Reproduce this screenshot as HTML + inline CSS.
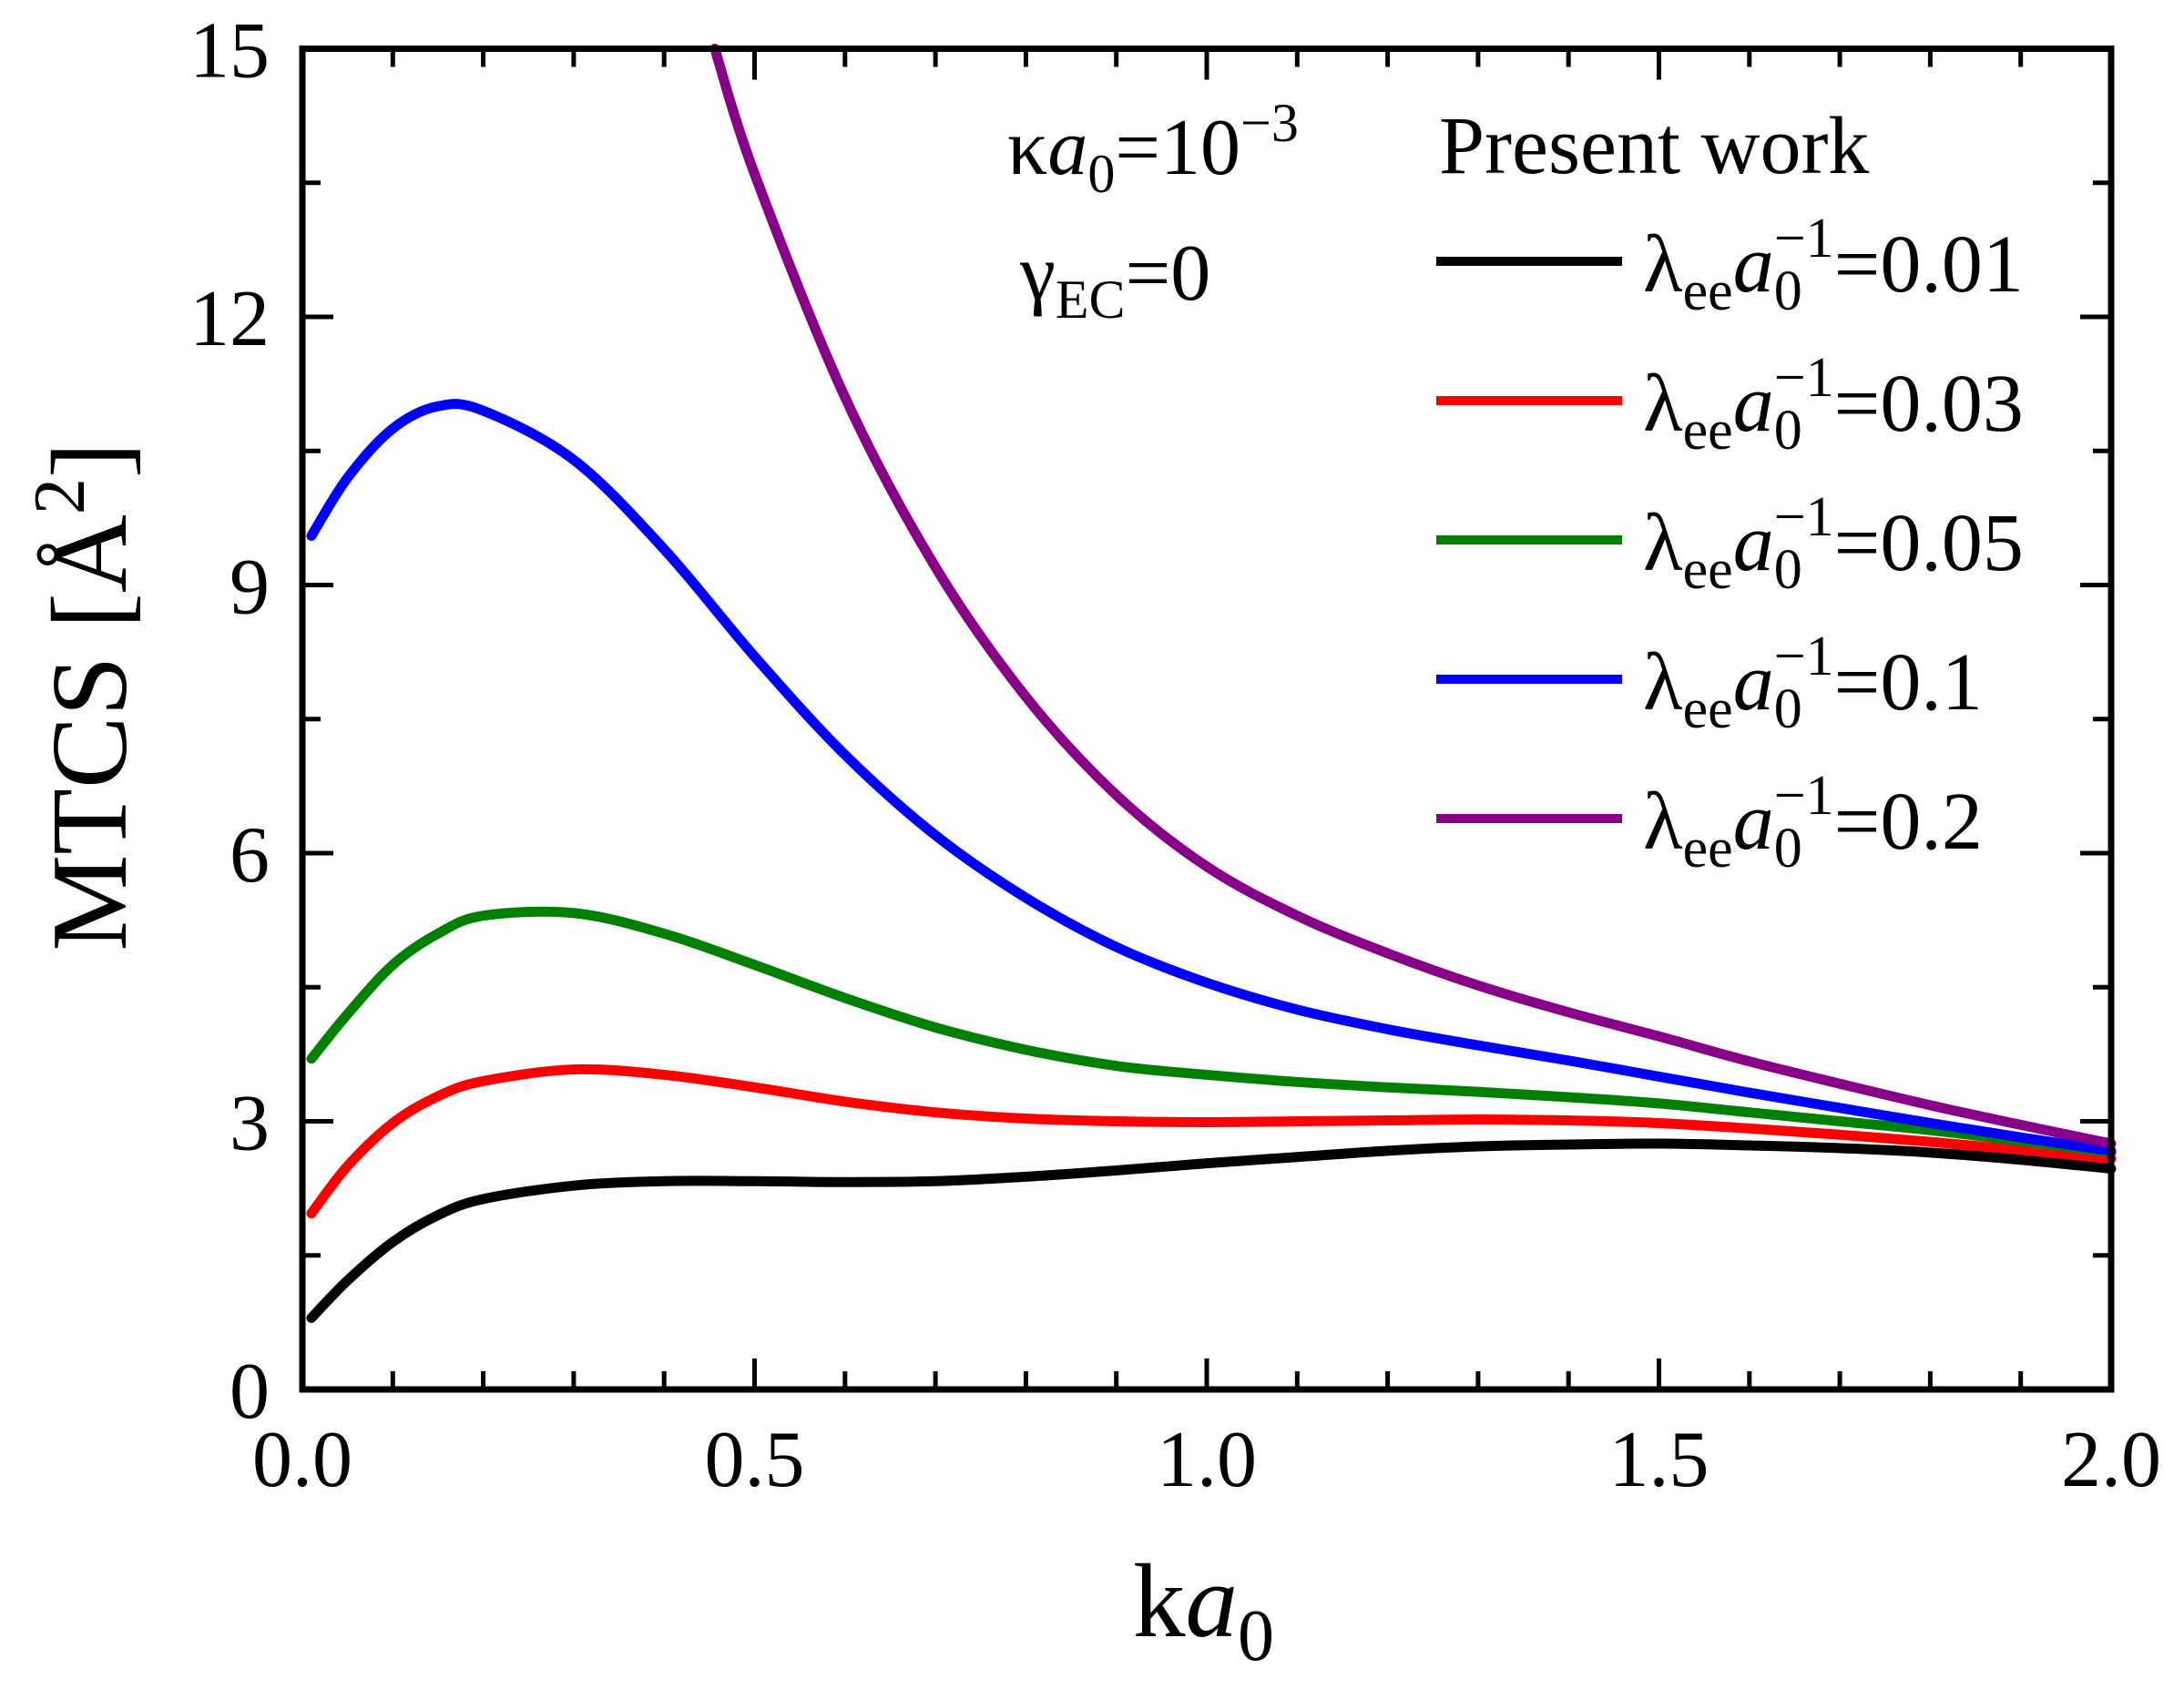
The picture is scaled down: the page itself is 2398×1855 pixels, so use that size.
<!DOCTYPE html>
<html><head><meta charset="utf-8"><style>
body{margin:0;background:#fff}
svg{display:block;font-family:"Liberation Serif",serif}
</style></head><body>
<svg id="chart" width="2398" height="1855" viewBox="0 0 2398 1855" xmlns="http://www.w3.org/2000/svg">
<g id="series"></g>
<g id="axes"></g>
<g id="ticks"></g>
<text transform="translate(138,765) rotate(-90)" text-anchor="middle" font-size="119">MTCS [Å<tspan dy="-46" font-size="80">2</tspan><tspan dy="46">]</tspan></text>
<text x="1244" y="1797" font-size="115">k<tspan font-style="italic">a</tspan><tspan font-size="80" dy="26">0</tspan></text>
<text x="1106" y="191" font-size="88">κ<tspan font-style="italic">a</tspan><tspan font-size="60" dy="20">0</tspan><tspan dy="-20">=10</tspan><tspan font-size="60" dy="-36">−3</tspan></text>
<text x="1120" y="329" font-size="88">γ<tspan font-size="60" dy="20">EC</tspan><tspan dy="-20">=0</tspan></text>
<text x="1580" y="190" font-size="90">Present work</text>
<g id="legend"></g>
</svg>
<script>
const xTicks=[0,0.5,1.0,1.5,2.0];
const xTickLabels=["0.0","0.5","1.0","1.5","2.0"];
const yTicks=[0,3,6,9,12,15];
const yTickLabels=["0","3","6","9","12","15"];
const xs=[0.01,0.05,0.1,0.15,0.2,0.3,0.4,0.5,0.6,0.7,0.8,0.9,1.0,1.1,1.2,1.3,1.4,1.5,1.6,1.7,1.8,1.9,2.0];
const black=[0.8,1.22,1.65,1.95,2.13,2.28,2.33,2.33,2.32,2.33,2.38,2.45,2.53,2.6,2.67,2.72,2.74,2.75,2.73,2.7,2.65,2.57,2.47];
const red=[1.97,2.5,2.98,3.28,3.45,3.58,3.52,3.38,3.22,3.1,3.03,3.0,2.99,3.0,3.01,3.02,3.01,2.98,2.92,2.85,2.77,2.68,2.58];
const green=[3.7,4.2,4.75,5.1,5.3,5.33,5.1,4.75,4.38,4.05,3.8,3.62,3.52,3.44,3.38,3.33,3.27,3.2,3.1,3.0,2.9,2.78,2.65];
const blue=[9.55,10.2,10.75,11.0,10.95,10.4,9.4,8.2,7.1,6.2,5.5,4.95,4.55,4.25,4.03,3.85,3.68,3.5,3.32,3.15,2.98,2.82,2.67];
const purpleX=[0.456,0.5,0.6,0.7,0.8,0.9,1.0,1.1,1.2,1.3,1.4,1.5,1.6,1.7,1.8,1.9,2.0];
const purple=[15,13.6,11.1,9.2,7.75,6.65,5.85,5.3,4.88,4.52,4.22,3.95,3.67,3.42,3.18,2.96,2.75];
const legendLabels=["0.01","0.03","0.05","0.1","0.2"];
const L=332,R=2318,T=53.5,B=1526;
const sx=v=>L+(v-0)/2*(R-L);
const sy=v=>B-(v-0)/15*(B-T);
const NS="http://www.w3.org/2000/svg";
function mk(t,a,p){const e=document.createElementNS(NS,t);for(const k in a)e.setAttribute(k,a[k]);p.appendChild(e);return e;}
function path(xv,yv){const P=xv.map((x,i)=>[sx(x),sy(yv[i])]);let d="M"+P[0][0]+","+P[0][1];
for(let i=0;i<P.length-1;i++){const p0=P[Math.max(i-1,0)],p1=P[i],p2=P[i+1],p3=P[Math.min(i+2,P.length-1)];
d+=" C"+(p1[0]+(p2[0]-p0[0])/6)+","+(p1[1]+(p2[1]-p0[1])/6)+" "+(p2[0]-(p3[0]-p1[0])/6)+","+(p2[1]-(p3[1]-p1[1])/6)+" "+p2[0]+","+p2[1];}return d;}
const sg=document.getElementById('series');
const ser=[[xs,black,"#000"],[xs,red,"#f00"],[xs,green,"#008000"],[xs,blue,"#00f"],[purpleX,purple,"#880088"]];
const names=['line-lambda-0.01','line-lambda-0.03','line-lambda-0.05','line-lambda-0.1','line-lambda-0.2'];
ser.forEach((s,i)=>{const e=mk('path',{d:path(s[0],s[1]),fill:'none',stroke:s[2],'stroke-width':11,'stroke-linecap':'round'},sg);

});
const ax=document.getElementById('axes');
const fr=mk('rect',{x:L,y:T,width:R-L,height:B-T,fill:'none',stroke:'#000','stroke-width':7},ax);


const tg=document.getElementById('ticks');
for(let i=0;i<=20;i++){const v=i*0.1,x=sx(v),len=(i%5==0)?34:20;
mk('line',{x1:x,y1:B,x2:x,y2:B-len,stroke:'#000','stroke-width':5},tg);
mk('line',{x1:x,y1:T,x2:x,y2:T+len,stroke:'#000','stroke-width':5},tg);}
for(let i=0;i<=10;i++){const v=i*1.5,y=sy(v),len=(i%2==0)?34:20;
mk('line',{x1:L,y1:y,x2:L+len,y2:y,stroke:'#000','stroke-width':5},tg);
mk('line',{x1:R,y1:y,x2:R-len,y2:y,stroke:'#000','stroke-width':5},tg);}
xTicks.forEach((v,i)=>{const t=mk('text',{x:sx(v),y:1632,'text-anchor':'middle','font-size':88},tg);t.textContent=xTickLabels[i];

});
yTicks.forEach((v,i)=>{const t=mk('text',{x:296,y:sy(v)+31,'text-anchor':'end','font-size':88},tg);t.textContent=yTickLabels[i];

});
const lg=document.getElementById('legend');
const cols=["#000","#f00","#008000","#00f","#880088"];
legendLabels.forEach((lab,i)=>{const y=287+i*153;
const ln=mk('line',{x1:1577,y1:y,x2:1781,y2:y,stroke:cols[i],'stroke-width':10},lg);


const t=mk('text',{x:1804,y:y+33,'font-size':90},lg);
t.innerHTML='λ<tspan font-size="62" dy="20">ee</tspan><tspan font-style="italic" dy="-20">a</tspan><tspan font-size="62" dy="20">0</tspan><tspan font-size="62" dx="-31" dy="-58">−1</tspan><tspan dy="38">='+lab+'</tspan>';

});
</script>
</body></html>
